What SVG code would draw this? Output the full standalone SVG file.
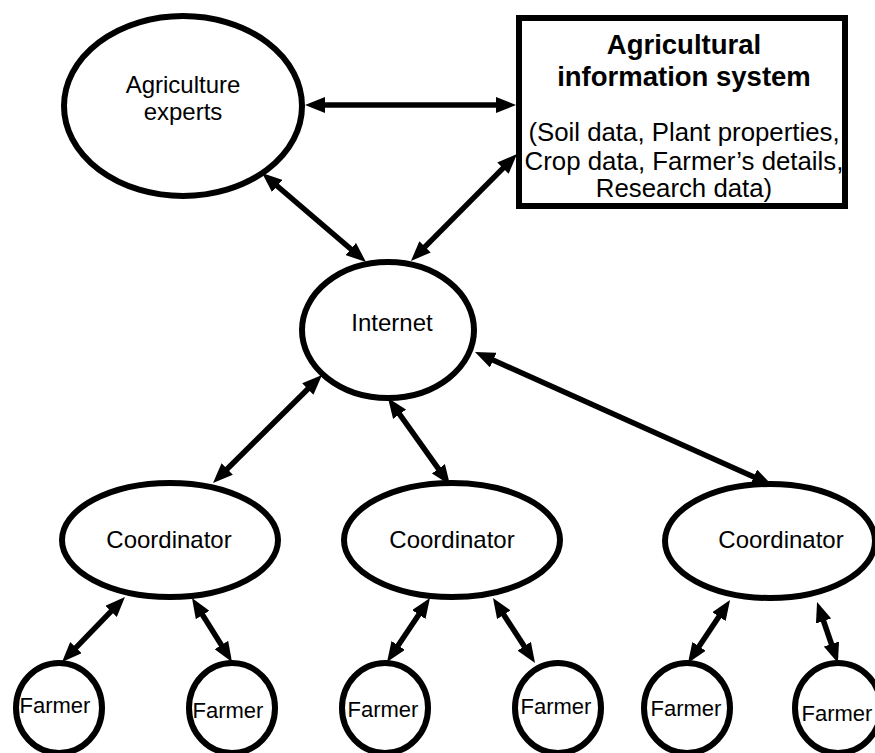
<svg xmlns="http://www.w3.org/2000/svg" width="875" height="753" viewBox="0 0 875 753">
<style>
.node{fill:#fff;stroke:#000;stroke-width:6}
.lbl{font-family:"Liberation Sans",Arial,sans-serif;font-size:24px;fill:#000;text-anchor:middle}
.far{font-size:22px}
.bold{font-weight:bold;font-size:27.5px}
.box{font-size:25.8px}
.conn line{stroke:#000;stroke-width:5.5;marker-start:url(#ah);marker-end:url(#ah)}
</style>
<defs>
<marker id="ah" markerUnits="userSpaceOnUse" markerWidth="20" markerHeight="16" refX="10" refY="8" orient="auto-start-reverse">
<path d="M0,0 L20,8 L0,16 z" fill="#000"/>
</marker>
</defs>
<rect width="875" height="753" fill="#fff"/>
<g id="experts">
<ellipse class="node" cx="183" cy="106" rx="119" ry="90"/>
<text class="lbl" x="183" y="93">Agriculture</text>
<text class="lbl" x="183" y="120">experts</text>
</g>
<g id="ais">
<rect x="519" y="18" width="326" height="188" fill="#fff" stroke="#000" stroke-width="6"/>
<text class="lbl bold" x="684" y="54">Agricultural</text>
<text class="lbl bold" x="684" y="86">information system</text>
<text class="lbl box" x="684" y="141">(Soil data, Plant properties,</text>
<text class="lbl box" x="684" y="170">Crop data, Farmer’s details,</text>
<text class="lbl box" x="684" y="197">Research data)</text>
</g>
<g id="internet">
<ellipse class="node" cx="388" cy="330" rx="86" ry="68"/>
<text class="lbl" x="392" y="331">Internet</text>
</g>
<g id="coord1">
<ellipse class="node" cx="170" cy="540" rx="108" ry="57"/>
<text class="lbl" x="169" y="548">Coordinator</text>
</g>
<g id="coord2">
<ellipse class="node" cx="452" cy="540" rx="108" ry="57"/>
<text class="lbl" x="452" y="548">Coordinator</text>
</g>
<g id="coord3">
<ellipse class="node" cx="770" cy="541" rx="105" ry="57"/>
<text class="lbl" x="781" y="548">Coordinator</text>
</g>
<g id="farmer1">
<ellipse class="node" cx="59" cy="708" rx="43" ry="45"/>
<text class="lbl far" x="55" y="713">Farmer</text>
</g>
<g id="farmer2">
<ellipse class="node" cx="232" cy="708" rx="43" ry="45"/>
<text class="lbl far" x="228" y="718">Farmer</text>
</g>
<g id="farmer3">
<ellipse class="node" cx="385" cy="708" rx="43" ry="45"/>
<text class="lbl far" x="383" y="717">Farmer</text>
</g>
<g id="farmer4">
<ellipse class="node" cx="558" cy="708" rx="43" ry="45"/>
<text class="lbl far" x="556" y="714">Farmer</text>
</g>
<g id="farmer5">
<ellipse class="node" cx="687" cy="708" rx="43" ry="45"/>
<text class="lbl far" x="686" y="716">Farmer</text>
</g>
<g id="farmer6">
<ellipse class="node" cx="838" cy="708" rx="43" ry="45"/>
<text class="lbl far" x="837" y="721">Farmer</text>
</g>
<g id="connectors" class="conn">
<line x1="315" y1="105" x2="506" y2="105"/>
<line x1="269.6" y1="179.5" x2="358.4" y2="255.5"/>
<line x1="510" y1="161.1" x2="418" y2="253.9"/>
<line x1="314.9" y1="382" x2="220.1" y2="476"/>
<line x1="393.8" y1="406.1" x2="444.2" y2="476.9"/>
<line x1="484.1" y1="356.1" x2="762.9" y2="480.9"/>
<line x1="118" y1="604.2" x2="69" y2="654.8"/>
<line x1="197.3" y1="606.5" x2="226.7" y2="653.5"/>
<line x1="424.4" y1="606.3" x2="392.6" y2="653.7"/>
<line x1="498.4" y1="606.4" x2="529.6" y2="654.6"/>
<line x1="724.5" y1="608.3" x2="693.5" y2="654.7"/>
<line x1="820.3" y1="611.5" x2="834.7" y2="653.5"/>
</g>
</svg>
